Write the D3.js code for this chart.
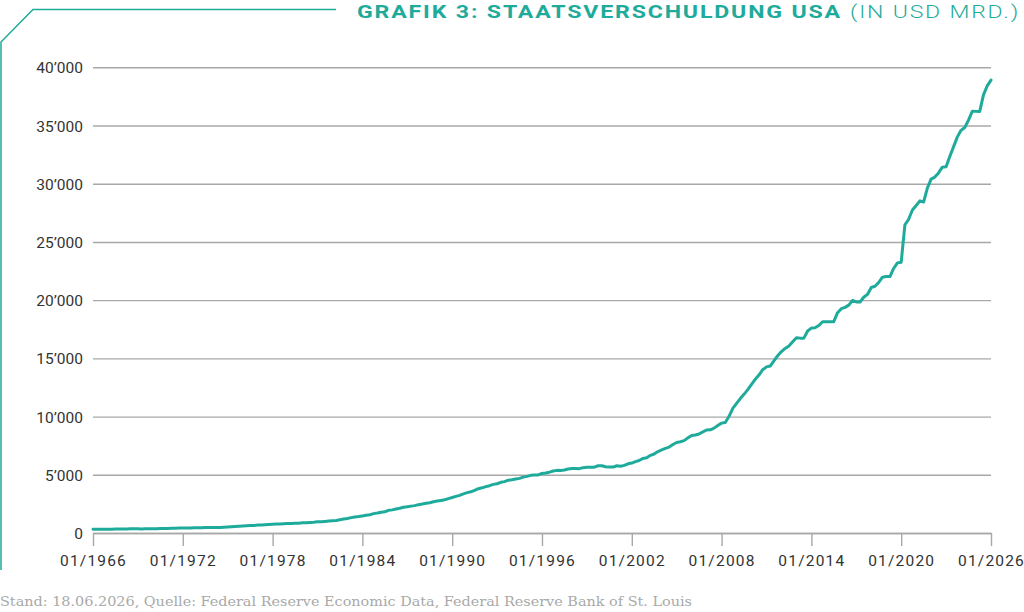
<!DOCTYPE html>
<html>
<head>
<meta charset="utf-8">
<script src="https://cdn.jsdelivr.net/npm/d3@7"></script>
<style>
  html, body { margin: 0; padding: 0; background: #fff; }
  svg { display: block; }
  .axis text { font-family: Roboto, "DejaVu Sans Condensed", sans-serif; fill: #333; }
</style>
</head>
<body>
<div id="chart"></div>
<script>
// Staatsverschuldung USA, Mrd. USD, Quartalswerte ab 01/1966
const firstQuarter = '1966-01-01';
const debt = [
  320.0, 316.4, 324.7, 329.3,      // 1966
  330.9, 323.0, 335.9, 344.7,      // 1967
  348.9, 347.6, 357.5, 358.0,      // 1968
  358.9, 353.7, 362.2, 366.2,      // 1969
  370.0, 370.9, 382.0, 389.2,      // 1970
  390.6, 398.1, 411.4, 424.1,      // 1971
  427.8, 427.3, 437.3, 449.3,      // 1972
  458.1, 458.1, 464.4, 469.1,      // 1973
  475.1, 475.1, 482.7, 492.7,      // 1974
  509.7, 533.2, 554.1, 576.6,      // 1975
  599.1, 620.4, 633.6, 653.5,      // 1976
  680.1, 685.2, 706.4, 729.2,      // 1977
  759.1, 771.5, 780.4, 797.8,      // 1978
  819.0, 812.2, 829.5, 845.1,      // 1979
  870.4, 883.0, 908.7, 930.2,      // 1980
  964.5, 971.2, 997.9, 1028.7,     // 1981
  1061.3, 1079.6, 1142.0, 1197.1,  // 1982
  1244.5, 1319.6, 1377.2, 1410.7,  // 1983
  1463.7, 1517.2, 1572.3, 1663.0,  // 1984
  1710.7, 1774.6, 1823.1, 1945.9,  // 1985
  1986.8, 2059.3, 2125.3, 2214.8,  // 1986
  2246.7, 2309.3, 2350.3, 2435.2,  // 1987
  2487.6, 2547.7, 2602.3, 2684.4,  // 1988
  2740.9, 2799.9, 2857.4, 2953.0,  // 1989
  3052.0, 3143.7, 3233.3, 3364.8,  // 1990
  3465.2, 3538.0, 3665.3, 3801.7,  // 1991
  3881.3, 3984.7, 4064.6, 4177.0,  // 1992
  4230.6, 4352.0, 4411.5, 4535.7,  // 1993
  4575.9, 4645.8, 4692.7, 4800.2,  // 1994
  4864.1, 4951.4, 4973.9, 4988.7,  // 1995
  5117.8, 5161.1, 5224.8, 5323.2,  // 1996
  5380.8, 5376.2, 5413.1, 5502.4,  // 1997
  5542.4, 5547.9, 5526.2, 5614.2,  // 1998
  5651.6, 5638.8, 5656.3, 5776.1,  // 1999
  5773.4, 5685.9, 5674.2, 5662.2,  // 2000
  5773.7, 5726.8, 5807.5, 5943.4,  // 2001
  6006.0, 6126.5, 6228.2, 6405.7,  // 2002
  6460.8, 6670.4, 6783.2, 6998.0,  // 2003
  7131.1, 7274.3, 7379.1, 7596.1,  // 2004
  7776.9, 7836.5, 7932.7, 8170.4,  // 2005
  8371.2, 8420.0, 8507.0, 8680.2,  // 2006
  8849.7, 8867.7, 9007.7, 9229.2,  // 2007
  9437.6, 9492.0, 10024.7, 10699.8, // 2008
  11126.9, 11545.3, 11909.8, 12311.3, // 2009
  12773.1, 13201.8, 13561.6, 14025.2, // 2010
  14270.0, 14343.1, 14790.3, 15222.9, // 2011
  15582.1, 15855.5, 16066.2, 16432.7, // 2012
  16771.6, 16738.2, 16738.2, 17351.9, // 2013
  17601.2, 17632.6, 17824.1, 18141.4, // 2014
  18152.1, 18152.0, 18150.6, 18922.2, // 2015
  19264.9, 19381.6, 19573.4, 19976.8, // 2016
  19846.4, 19844.6, 20244.9, 20492.9, // 2017
  21089.7, 21195.1, 21516.1, 21974.1, // 2018
  22027.9, 22023.3, 22719.4, 23201.4, // 2019
  23250.0, 26477.2, 26945.4, 27747.8, // 2020
  28132.6, 28529.4, 28428.9, 29617.2, // 2021
  30400.9, 30568.6, 30928.9, 31419.7, // 2022
  31458.4, 32332.3, 33167.3, 34001.5, // 2023
  34586.5, 34831.6, 35464.7, 36218.6, // 2024
  36214.3, 36214.3, 37637.6, 38400.0, // 2025
  38900.0                             // 2026
];

const yTicks = [0, 5000, 10000, 15000, 20000, 25000, 30000, 35000, 40000];
const xTickYears = [1966, 1972, 1978, 1984, 1990, 1996, 2002, 2008, 2014, 2020, 2026];
const xTickLabels = ['01/1966', '01/1972', '01/1978', '01/1984', '01/1990', '01/1996',
                     '01/2002', '01/2008', '01/2014', '01/2020', '01/2026'];

const titleMain = 'GRAFIK 3: STAATSVERSCHULDUNG USA';
const titleUnit = '(IN USD MRD.)';
const footnote = 'Stand: 18.06.2026, Quelle: Federal Reserve Economic Data, Federal Reserve Bank of St. Louis';

const teal = '#1fab9b';
const grid = '#a8a8a8';

const width = 1024;
const height = 612;
const plot = { left: 93, right: 991, top: 67.3, bottom: 533 };

const start = new Date(firstQuarter);
const points = debt.map((v, i) => ({ date: d3.utcMonth.offset(start, i * 3), value: v }));

const x = d3.scaleUtc()
    .domain([new Date(Date.UTC(1966, 0, 1)), new Date(Date.UTC(2026, 0, 1))])
    .range([plot.left, plot.right]);

const y = d3.scaleLinear()
    .domain([0, 40000])
    .range([plot.bottom, plot.top]);

const svg = d3.select('#chart')
    .append('svg')
    .attr('width', width)
    .attr('height', height);

// frame line top left
svg.append('path')
    .attr('d', d3.line()([[1, 570], [1, 42], [33, 9.5], [336, 9.5]]))
    .attr('fill', 'none')
    .attr('stroke', teal)
    .attr('stroke-width', 1.5);

// title, squeezed into the same span as the original
svg.append('text')
    .attr('x', 357)
    .attr('y', 18)
    .attr('textLength', 485)
    .attr('lengthAdjust', 'spacingAndGlyphs')
    .style('font-family', 'Roboto, "DejaVu Sans Condensed", sans-serif')
    .style('font-weight', 'bold')
    .style('font-size', '19px')
    .style('letter-spacing', '1.5px')
    .style('fill', teal)
    .text(titleMain);

svg.append('text')
    .attr('x', 850)
    .attr('y', 18)
    .attr('textLength', 170)
    .attr('lengthAdjust', 'spacingAndGlyphs')
    .style('font-family', 'Roboto, "DejaVu Sans Condensed", sans-serif')
    .style('font-weight', 300)
    .style('font-size', '19px')
    .style('letter-spacing', '1.5px')
    .style('fill', teal)
    .text(titleUnit);

// y axis + gridlines
const yAxis = svg.append('g')
    .attr('class', 'axis')
    .attr('transform', `translate(${plot.left},0)`)
    .call(d3.axisLeft(y)
        .tickValues(yTicks)
        .tickSize(-(plot.right - plot.left))
        .tickPadding(10)
        .tickFormat(d => d3.format(',')(d).replace(/,/g, '\u2019')));

yAxis.select('.domain').remove();
yAxis.selectAll('.tick line')
    .attr('stroke', grid)
    .attr('stroke-width', 1.4);
yAxis.selectAll('.tick text')
    .style('font-size', '15.5px')
    .attr('dy', '0.36em');

// x axis
const xAxis = svg.append('g')
    .attr('class', 'axis')
    .attr('transform', `translate(0,${plot.bottom})`)
    .call(d3.axisBottom(x)
        .tickValues(xTickYears.map(yr => new Date(Date.UTC(yr, 0, 1))))
        .tickSize(13)
        .tickSizeOuter(0)
        .tickPadding(9)
        .tickFormat((d, i) => xTickLabels[i]));

xAxis.select('.domain')
    .attr('stroke', grid)
    .attr('stroke-width', 1.4);
xAxis.selectAll('.tick line')
    .attr('stroke', grid)
    .attr('stroke-width', 1.4);
xAxis.selectAll('.tick text')
    .style('font-size', '15.5px')
    .style('letter-spacing', '1.2px');

// debt line
svg.append('path')
    .datum(points)
    .attr('fill', 'none')
    .attr('stroke', teal)
    .attr('stroke-width', 3)
    .attr('stroke-linejoin', 'round')
    .attr('stroke-linecap', 'round')
    .attr('d', d3.line()
        .x(d => x(d.date))
        .y(d => y(d.value)));

// source
svg.append('text')
    .attr('x', 0)
    .attr('y', 605.5)
    .attr('textLength', 692)
    .attr('lengthAdjust', 'spacingAndGlyphs')
    .style('font-family', '"DejaVu Serif Condensed", "Liberation Serif", serif')
    .style('font-size', '13.5px')
    .style('fill', '#a9a9a9')
    .text(footnote);
</script>
</body>
</html>
